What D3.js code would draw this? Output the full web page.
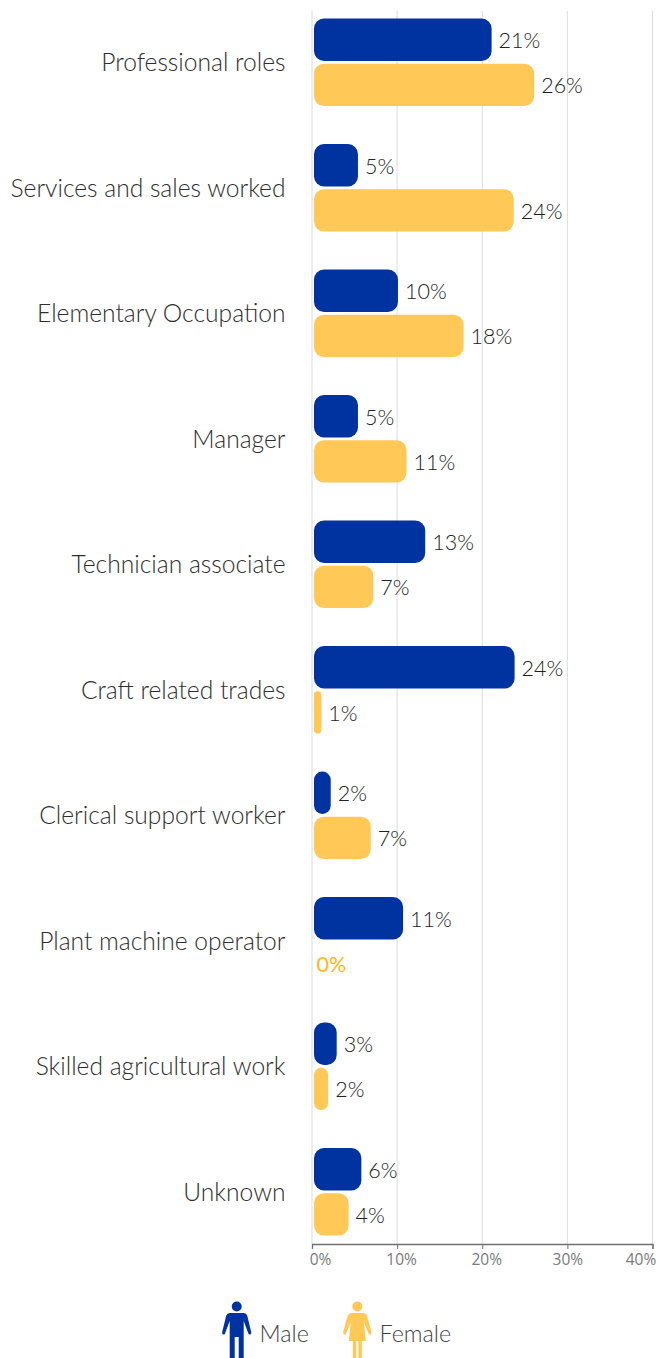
<!DOCTYPE html>
<html><head><meta charset="utf-8">
<script src="https://cdn.jsdelivr.net/npm/d3@7/dist/d3.min.js"></script>
<style>html,body{margin:0;padding:0;background:#fff}svg{display:block}</style>
</head><body><svg id="c" width="660" height="1358"></svg>
<script>
const categories=["Professional roles","Services and sales worked","Elementary Occupation","Manager","Technician associate","Craft related trades","Clerical support worker","Plant machine operator","Skilled agricultural work","Unknown"];
const maleValues=[21.1,5.4,10.1,5.4,13.3,23.8,2.2,10.7,2.9,5.8];
const femaleValues=[26.1,23.7,17.8,11.1,7.2,1.1,6.9,0,1.9,4.3];
const maleLabels=["21%","5%","10%","5%","13%","24%","2%","11%","3%","6%"];
const femaleLabels=["26%","24%","18%","11%","7%","1%","7%","0%","2%","4%"];
const ticks=[0,10,20,30,40];
const tickShift=[8,4,4,0,-12];
const seriesNames=["Male","Female"];
const colors={Male:"#0033a0",Female:"#ffc857"};
const labelFont="Lato";
const svg=d3.select("#c");
const x=d3.scaleLinear().domain([0,40]).range([312,652.5]);
const y=d3.scaleBand().domain(categories).range([-0.45,1254.55]);
const inner=d3.scaleBand().domain(seriesNames).range([-43.8,43.8]).paddingInner(0.06).paddingOuter(0);
const gridTop=11,axisY=1244;
svg.append("g").selectAll("line").data(ticks).join("line")
 .attr("x1",d=>x(d)).attr("x2",d=>x(d)).attr("y1",gridTop).attr("y2",axisY)
 .attr("stroke","#dcdcdc").attr("stroke-width",1);
const axis=svg.append("g").attr("transform",`translate(0,${axisY})`)
 .call(d3.axisBottom(x).tickValues(ticks).tickFormat(d=>d+"%").tickSize(5).tickPadding(5));
axis.select(".domain").attr("stroke","#707070").attr("stroke-width",1.3);
axis.selectAll(".tick line").attr("stroke","#707070");
axis.selectAll("text").attr("font-family","'Open Sans'").attr("font-size",15.5).attr("fill","#7a7a7a").attr("dx",(d,i)=>tickShift[i]);
const rows=categories.flatMap((c,i)=>[
 {c,s:"Male",v:maleValues[i],l:maleLabels[i]},
 {c,s:"Female",v:femaleValues[i],l:femaleLabels[i]}]);
const cy=d=>y(d.c)+y.bandwidth()/2+inner(d.s);
svg.append("g").selectAll("rect").data(rows.filter(d=>d.v>0)).join("rect")
 .attr("x",x(0)+2).attr("y",cy).attr("height",inner.bandwidth())
 .attr("width",d=>Math.max(0,x(d.v)-x(0)-2))
 .attr("rx",d=>Math.min(10,(x(d.v)-x(0)-2)/2)).attr("fill",d=>colors[d.s]);
svg.append("g").selectAll("text").data(rows).join("text")
 .attr("x",d=>d.v>0?x(d.v)+7:x(0)+4.5)
 .attr("y",d=>cy(d)+inner.bandwidth()/2+8.5)
 .attr("font-family",labelFont).attr("font-weight",d=>d.v>0?300:400).attr("font-size",21.5)
 .attr("fill",d=>d.v>0?"#222":"#ffb61f").text(d=>d.l);
svg.append("g").selectAll("text").data(categories).join("text")
 .attr("x",285.5).attr("y",d=>y(d)+y.bandwidth()/2+8.8)
 .attr("text-anchor","end").attr("font-family",labelFont).attr("font-weight",300)
 .attr("font-size",24.6).attr("fill","#2e2e2e").text(d=>d);
const icon=(gx,d,color)=>{const s=svg.append("g").attr("transform",`translate(${gx},1313)`);
 s.append("circle").attr("cy",-6.5).attr("r",5).attr("fill",color);
 s.append("path").attr("d",d).attr("fill",color);};
icon(236.7,"M-7 0 H7 Q9.5 0 10.5 2.5 L14.5 19 Q15 21 13.5 21.5 Q12 22 11.5 20 L7 8 V45 H2 V24 H-2 V45 H-7 V8 L-11.5 20 Q-12 22 -13.5 21.5 Q-15 21 -14.5 19 L-10.5 2.5 Q-9.5 0 -7 0Z",colors.Male);
icon(357.3,"M-6 0 H6 Q8.5 0 9.5 2.5 L14 18.5 Q14.5 21 13 21.5 Q11.5 22 11 20 L6.5 9 L8.5 28 H4.5 V45 H1 V28 H-1 V45 H-4.5 V28 H-8.5 L-6.5 9 L-11 20 Q-11.5 22 -13 21.5 Q-14.5 21 -14 18.5 L-9.5 2.5 Q-8.5 0 -6 0Z",colors.Female);
svg.append("g").selectAll("text").data(seriesNames).join("text")
 .attr("x",(d,i)=>[259.5,379.5][i]).attr("y",1342).attr("font-family",labelFont).attr("font-weight",300)
 .attr("font-size",23.3).attr("fill","#444").text(d=>d);
</script></body></html>
